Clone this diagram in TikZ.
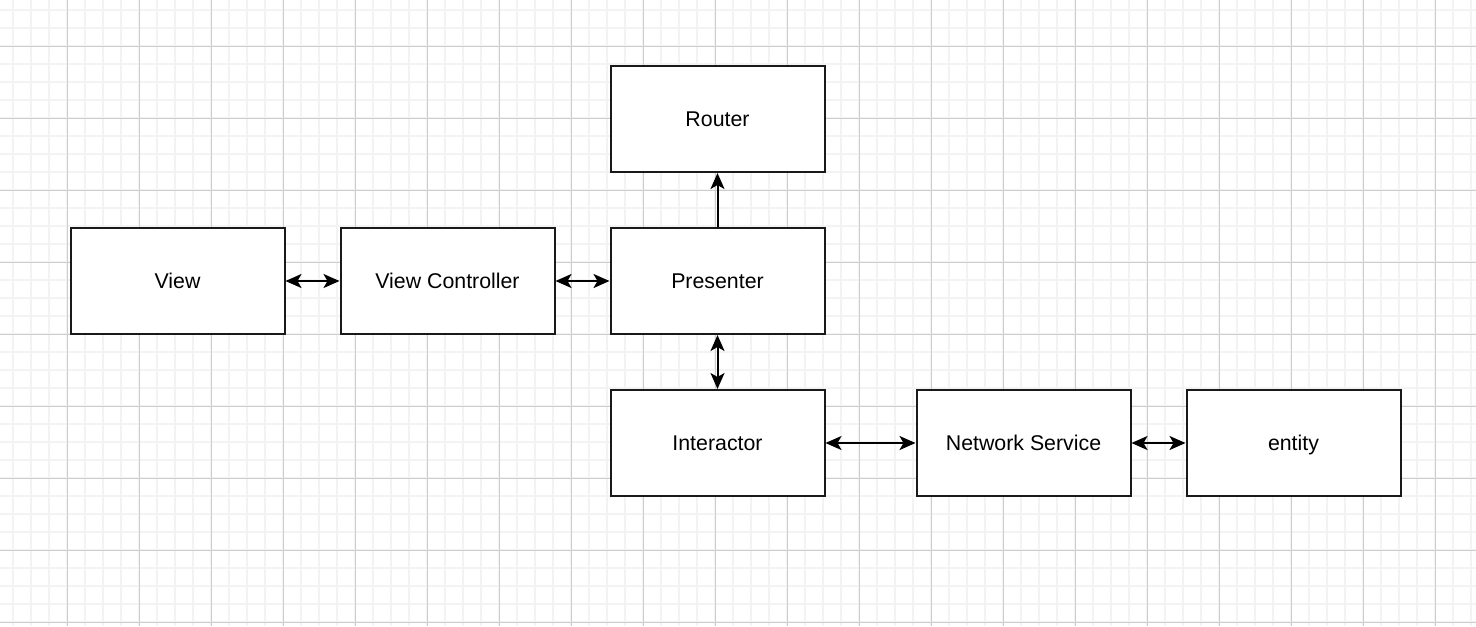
\documentclass[tikz,border=0pt]{standalone}
\usepackage{fontspec}
\setmainfont{Liberation Sans}
\usetikzlibrary{arrows.meta, positioning}
\definecolor{minorgrid}{HTML}{F3F3F3}
\definecolor{majorgrid}{HTML}{CDCDCD}

\begin{document}
\begin{tikzpicture}[x=0.75pt, y=-0.75pt, node distance=40.5pt, auto]
    \tikzstyle{block} = [rectangle, minimum width=160.5pt, minimum height=79.5pt, text height=13pt, text depth=1.5pt, text centered, draw=black!90, line width=1.5pt, fill=white, font=\fontsize{16}{19}\selectfont]
    \tikzstyle{arrow} = [line width=1.5pt, -{Stealth[length=12pt, width=10.5pt, inset=3pt]}]
    \tikzstyle{biarrow} = [line width=1.5pt, {Stealth[length=12pt, width=10.5pt, inset=3pt]}-{Stealth[length=12pt, width=10.5pt, inset=3pt]}]
    \tikzstyle{minorline} = [draw=minorgrid, line width=1.5pt]
    \tikzstyle{majorline} = [draw=majorgrid, line width=0.9pt]

    \useasboundingbox (0,0) rectangle (1476,626);
    \fill[white] (0,0) rectangle (1476,626);

    % background grid
    \begin{scope}
        \clip (0,0) rectangle (1476,626);
        \foreach \i in {0,...,81} \draw[minorline] ({13.33+18*\i},0) -- ({13.33+18*\i},626);
        \foreach \j in {0,...,34} \draw[minorline] (0,{10.33+18*\j}) -- (1476,{10.33+18*\j});
        \foreach \i in {0,...,19} \draw[majorline] ({67.33+72*\i},0) -- ({67.33+72*\i},626);
        \foreach \j in {0,...,8} \draw[majorline] (0,{46.33+72*\j}) -- (1476,{46.33+72*\j});
    \end{scope}

    \node (view) [block] at (177.5,281) {View};
    \node (ctrl) [block, right=of view] {View Controller};
    \node (presenter) [block, right=of ctrl] {Presenter};
    \node (router) [block, above=of presenter] {Router};
    \node (interactor) [block, below=of presenter] {Interactor};
    \node (network) [block, right=67.5pt of interactor] {Network Service};
    \node (entity) [block, right=of network] {entity};

    \draw [biarrow] (view) -- (ctrl);
    \draw [biarrow] (ctrl) -- (presenter);
    \draw [arrow] (presenter) -- (router);
    \draw [biarrow] (presenter) -- (interactor);
    \draw [biarrow] (interactor) -- (network);
    \draw [biarrow] (network) -- (entity);
\end{tikzpicture}
\end{document}
